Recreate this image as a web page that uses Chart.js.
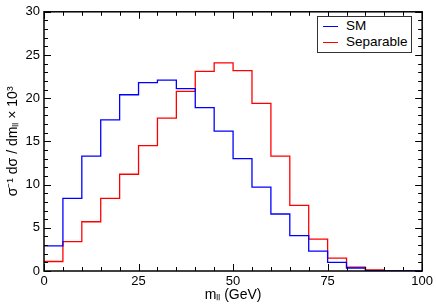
<!DOCTYPE html>
<html>
<head>
<meta charset="utf-8">
<title>m_ll distribution</title>
<script src="https://cdn.jsdelivr.net/npm/chart.js@4.4.1/dist/chart.umd.min.js"></script>
<style>
    html, body { margin: 0; padding: 0; background: #fff; }
    #wrap { position: relative; width: 436px; height: 307px; }
    #legend {
        position: absolute; left: 317px; top: 16px; width: 93px; height: 35px;
        border: 1px solid #333; background: #fff;
        font: 13.5px "Liberation Sans", Arial, sans-serif; color: #000;
    }
    #legend .item { position: absolute; left: 0; height: 16px; line-height: 16px; white-space: nowrap; }
    #legend .swatch { position: absolute; left: 5px; top: 8px; width: 15px; height: 0; border-top: 1.3px solid; }
    #legend .label { position: absolute; left: 28px; top: 0; }
</style>
</head>
<body>
<div id="wrap">
    <canvas id="chart" width="436" height="307"></canvas>
    <div id="legend"></div>
</div>
<script>
// bin edges in GeV (each bin is 5 GeV wide)
var binEdges = [0, 5, 10, 15, 20, 25, 30, 35, 40, 45, 50, 55, 60, 65, 70, 75, 80, 85, 90, 95, 100];

// normalised distributions (x 10^3), one value per bin
var smValues = [2.9, 8.4, 13.3, 17.5, 20.4, 21.8, 22.1, 21.1, 18.9, 16.2,
                13.0, 9.7, 6.6, 4.1, 2.3, 1.0, 0.35, 0.05, 0, 0];
var separableValues = [1.1, 3.4, 5.7, 8.4, 11.2, 14.5, 17.7, 20.8, 23.1, 24.1,
                       23.2, 19.4, 13.3, 7.6, 3.7, 1.5, 0.45, 0.12, 0, 0];

var seriesLabels = ['SM', 'Separable'];
var seriesColors = ['#0000ff', '#ff0000'];

var FONT = '"Liberation Sans", Arial, sans-serif';

/**
 * Turn a list of bin values into step points (left edges + closing edge)
 * @param {Array} values Bin contents
 * @return {Array} points for a stepped line
 */
function toSteps(values) {
    var pts = [];
    for (var i = 0; i < values.length; i++) {
        pts.push({x: binEdges[i], y: values[i]});
    }
    pts.push({x: binEdges[values.length], y: values[values.length - 1]});
    return pts;
}

/**
 * Frame around the plot with inward major/minor ticks on every side
 */
var framePlugin = {
    id: 'frame',
    afterDatasetsDraw: function(chart) {
        var ctx = chart.ctx;
        var a = chart.chartArea;
        var xs = chart.scales.x;
        var ys = chart.scales.y;
        var v, p, len;

        ctx.save();
        ctx.strokeStyle = '#000';
        ctx.lineWidth = 1;
        ctx.beginPath();
        for (v = xs.min; v <= xs.max; v += 5) {
            p = Math.round(xs.getPixelForValue(v)) + 0.5;
            len = (v % 25 === 0) ? 7 : 4;
            ctx.moveTo(p, a.bottom); ctx.lineTo(p, a.bottom - len);
            ctx.moveTo(p, a.top); ctx.lineTo(p, a.top + len);
        }
        for (v = ys.min; v <= ys.max; v += 1) {
            p = Math.round(ys.getPixelForValue(v)) + 0.5;
            len = (v % 5 === 0) ? 7 : 4;
            ctx.moveTo(a.left, p); ctx.lineTo(a.left + len, p);
            ctx.moveTo(a.right, p); ctx.lineTo(a.right - len, p);
        }
        ctx.stroke();

        ctx.lineWidth = 1.5;
        ctx.strokeRect(a.left, a.top, a.right - a.left, a.bottom - a.top);
        ctx.restore();
    }
};

var datasets = [smValues, separableValues].map(function(vals, i) {
    return {
        label: seriesLabels[i],
        data: toSteps(vals),
        borderColor: seriesColors[i],
        borderWidth: 1.3,
        pointRadius: 0,
        stepped: 'before',
        fill: false
    };
});

var chart = new Chart(document.getElementById('chart'), {
    type: 'line',
    data: {datasets: datasets},
    options: {
        responsive: false,
        animation: false,
        devicePixelRatio: 1,
        layout: {padding: {top: 5, right: 12, left: 0, bottom: 0}},
        plugins: {
            legend: {display: false},
            tooltip: {enabled: false}
        },
        scales: {
            x: {
                type: 'linear',
                min: 0,
                max: 100,
                grid: {display: false, drawTicks: false},
                border: {display: false},
                ticks: {stepSize: 25, padding: 3, maxRotation: 0, color: '#000', font: {family: FONT, size: 13}},
                title: {display: true, text: 'mₗₗ (GeV)', color: '#000', font: {family: FONT, size: 14}, padding: {top: 0, bottom: 3}},
                afterFit: function(scale) { scale.height = 36; }
            },
            y: {
                type: 'linear',
                min: 0,
                max: 30,
                grid: {display: false, drawTicks: false},
                border: {display: false},
                ticks: {stepSize: 5, padding: 4, color: '#000', font: {family: FONT, size: 13}},
                title: {display: true, text: 'σ⁻¹ dσ / dmₗₗ × 10³', color: '#000', font: {family: FONT, size: 14}, padding: {top: 5, bottom: 0}},
                afterFit: function(scale) { scale.width = 44; }
            }
        }
    },
    plugins: [framePlugin]
});

// html legend built from the datasets
var legendEl = document.getElementById('legend');
chart.data.datasets.forEach(function(ds, i) {
    var item = document.createElement('div');
    item.className = 'item';
    item.style.top = (1 + i * 15.5) + 'px';
    item.innerHTML = '<span class="swatch" style="border-color:' + ds.borderColor + '"></span>' +
        '<span class="label">' + ds.label + '</span>';
    legendEl.appendChild(item);
});
</script>
</body>
</html>
